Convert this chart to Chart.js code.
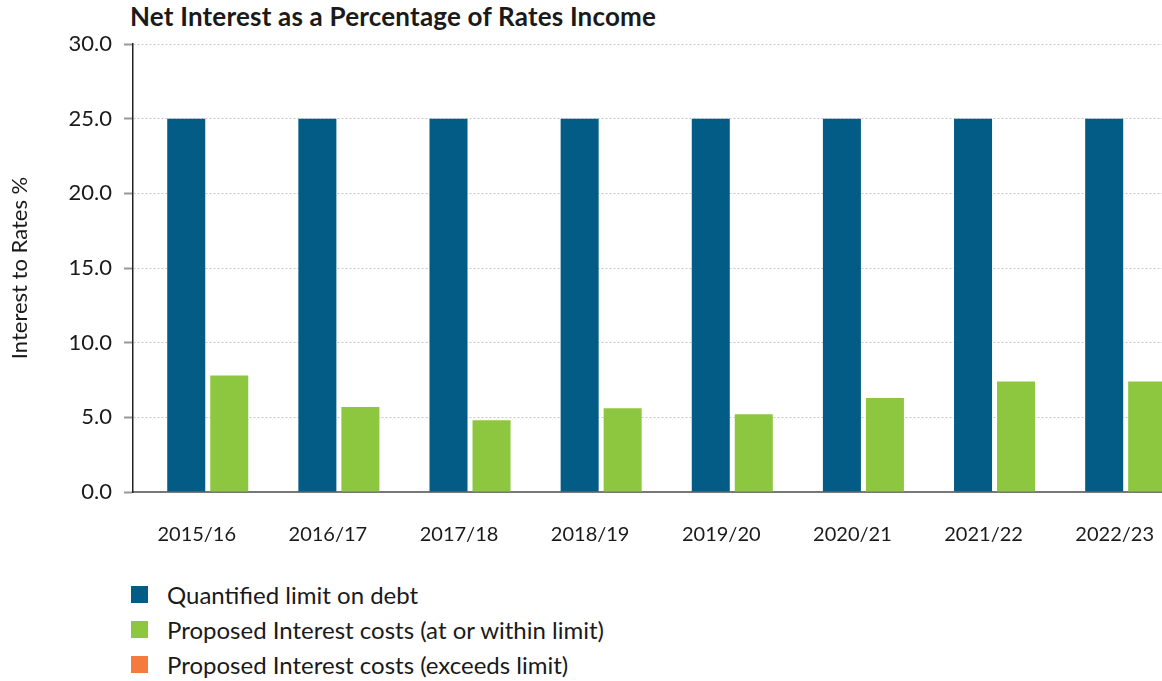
<!DOCTYPE html>
<html lang="en">
<head>
<meta charset="UTF-8">
<title>Net Interest as a Percentage of Rates Income</title>
<script src="https://cdn.jsdelivr.net/npm/chart.js@4.4.1/dist/chart.umd.min.js"></script>
<style>
    html, body { margin: 0; padding: 0; background: #fff; overflow: hidden; }
    body { width: 1162px; height: 681px; position: relative; font-family: Lato, sans-serif; color: #1a1a1a; }
    .chart-title { position: absolute; left: 130px; top: 0px; font-size: 26px; font-weight: 700; letter-spacing: 0.2px; }
    /* a bit wider than the window: the last bar is cut off in the original too */
    .chart-box { position: absolute; left: 0; top: 0; width: 1196px; height: 560px; }
    .legend { position: absolute; left: 131px; top: 577px; margin: 0; padding: 0; list-style: none; }
    .legend li { display: flex; align-items: center; height: 35px; font-size: 24px; }
    .legend .swatch { width: 17px; height: 17px; margin-right: 19px; }
</style>
</head>
<body>
    <div class="chart-title">Net Interest as a Percentage of Rates Income</div>
    <div class="chart-box"><canvas id="interestChart"></canvas></div>
    <ul class="legend" id="legend"></ul>

<script>
    const years = ['2015/16', '2016/17', '2017/18', '2018/19', '2019/20', '2020/21', '2021/22', '2022/23'];
    const debtLimit = [25, 25, 25, 25, 25, 25, 25, 25];
    const withinLimit = [7.8, 5.7, 4.8, 5.6, 5.2, 6.3, 7.4, 7.4];
    const exceedsLimit = [null, null, null, null, null, null, null, null];

    const seriesNames = [
        'Quantified limit on debt',
        'Proposed Interest costs (at or within limit)',
        'Proposed Interest costs (exceeds limit)'
    ];
    const seriesColors = ['#035c86', '#8dc63f', '#f47a3e'];

    Chart.defaults.font.family = 'Lato, sans-serif';
    Chart.defaults.font.size = 20;
    Chart.defaults.color = '#1a1a1a';

    // small gap between the value axis and the first year, as in the source
    function shiftCategories(scale) {
        scale._startValue -= 0.07;
        scale._valueRange += 0.07;
    }

    const ctx = document.getElementById('interestChart').getContext('2d');
    const chart = new Chart(ctx, {
        type: 'bar',
        data: {
            labels: years,
            datasets: [
                { label: seriesNames[0], data: debtLimit, backgroundColor: seriesColors[0] },
                { label: seriesNames[1], data: withinLimit, backgroundColor: seriesColors[1] },
                { label: seriesNames[2], data: exceedsLimit, backgroundColor: seriesColors[2] }
            ]
        },
        options: {
            responsive: true,
            maintainAspectRatio: false,
            animation: false,
            layout: { padding: { top: 44, left: 4, right: 0, bottom: 0 } },
            datasets: {
                bar: { skipNull: true, categoryPercentage: 0.656, barPercentage: 0.884 }
            },
            plugins: {
                legend: { display: false },
                tooltip: { enabled: false }
            },
            scales: {
                x: {
                    offset: true,
                    grid: { display: false, drawTicks: false },
                    border: { color: '#777', width: 2 },
                    ticks: { padding: 31, labelOffset: -11, maxRotation: 0, autoSkip: false, color: '#1a1a1a' },
                    afterBuildTicks: shiftCategories,
                    afterFit: (s) => { s.height = 68; }
                },
                y: {
                    min: 0,
                    max: 30,
                    ticks: {
                        stepSize: 5,
                        padding: 12,
                        color: '#1a1a1a',
                        font: { size: 22 },
                        callback: (v) => v.toFixed(1)
                    },
                    grid: {
                        color: '#c8c8c8',
                        lineWidth: 1,
                        tickLength: 9,
                        tickColor: '#999',
                        tickWidth: 2,
                        tickBorderDash: []
                    },
                    border: { color: '#222', width: 1.5, dash: [2, 2] },
                    title: {
                        display: true,
                        text: 'Interest to Rates %',
                        color: '#1a1a1a',
                        font: { size: 22 },
                        padding: { top: 3, bottom: 0 }
                    },
                    afterFit: (s) => { s.width = 129; }
                }
            }
        }
    });

    // HTML legend, one row per series
    const legendEl = document.getElementById('legend');
    chart.data.datasets.forEach((ds) => {
        const li = document.createElement('li');
        const sw = document.createElement('span');
        sw.className = 'swatch';
        sw.style.background = ds.backgroundColor;
        li.appendChild(sw);
        li.appendChild(document.createTextNode(ds.label));
        legendEl.appendChild(li);
    });
</script>
</body>
</html>
